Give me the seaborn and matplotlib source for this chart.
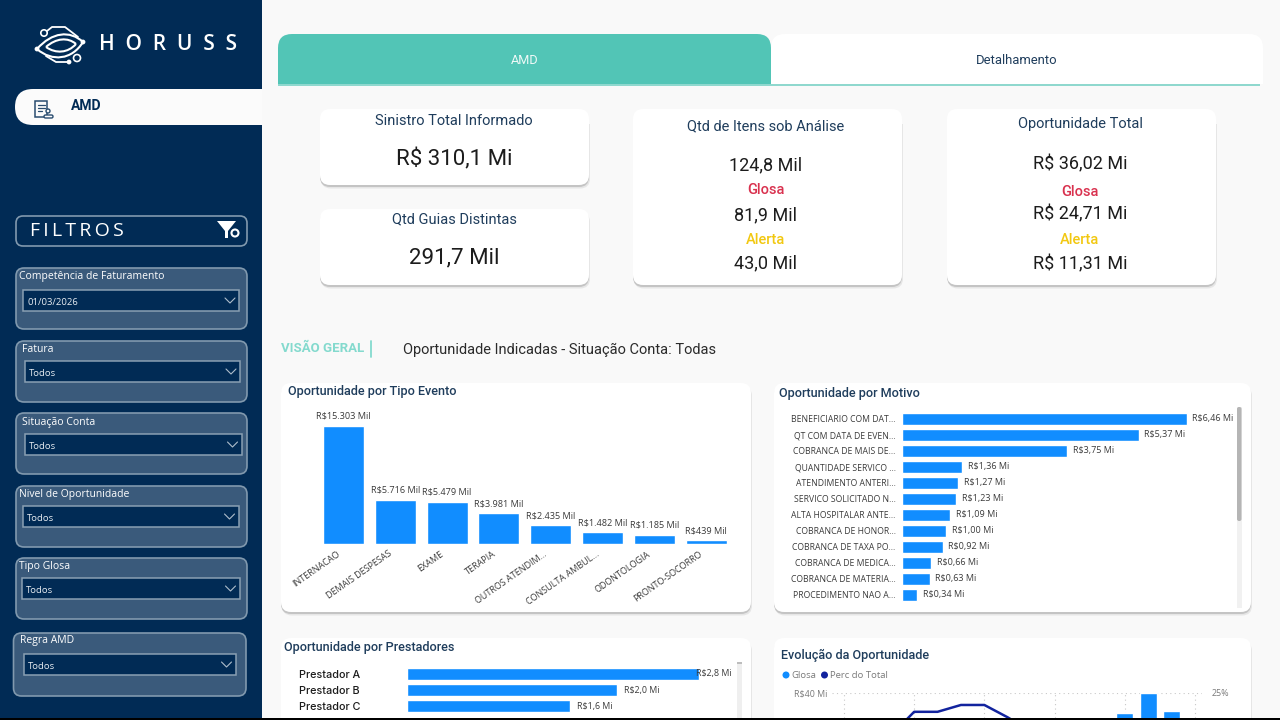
import numpy as np
import matplotlib.pyplot as plt
from matplotlib.patches import FancyBboxPatch, Rectangle, Polygon, Circle, PathPatch
from matplotlib.path import Path
from matplotlib.transforms import ScaledTranslation
import seaborn as sns

sns.set_theme(style="white")
plt.rcParams['font.family'] = ['Roboto', 'DejaVu Sans']

W, H = 1280, 720

# data
evento_cats = ['INTERNACAO', 'DEMAIS DESPESAS', 'EXAME', 'TERAPIA', 'OUTROS ATENDIM...',
               'CONSULTA AMBUL...', 'ODONTOLOGIA', 'PRONTO-SOCORRO']
evento_vals = [15303, 5716, 5479, 3981, 2435, 1482, 1185, 439]

motivo_cats = ['BENEFICIARIO COM DAT...', 'QT COM DATA DE EVEN...', 'COBRANCA DE MAIS DE...',
               'QUANTIDADE SERVICO ...', 'ATENDIMENTO ANTERI...', 'SERVICO SOLICITADO N...',
               'ALTA HOSPITALAR ANTE...', 'COBRANCA DE HONOR...', 'COBRANCA DE TAXA PO...',
               'COBRANCA DE MEDICA...', 'COBRANCA DE MATERIA...', 'PROCEDIMENTO NAO A...']
motivo_vals = [6.46, 5.37, 3.75, 1.36, 1.27, 1.23, 1.09, 1.00, 0.92, 0.66, 0.63, 0.34]

prestador_cats = ['Prestador A', 'Prestador B', 'Prestador C']
prestador_vals = [2.8, 2.02, 1.57]

evol_bar_idx = [12, 13, 14]
evol_bar_vals = [32.5, 40.0, 33.3]
evol_line_idx = [2, 3, 4, 5, 6, 7, 8]
evol_line_vals = [15.0, 20.6, 20.6, 22.2, 22.2, 19.3, 16.0]

filtro_labels = ['Competência de Faturamento', 'Fatura', 'Situação Conta',
                 'Nivel de Oportunidade', 'Tipo Glosa', 'Regra AMD']
filtro_values = ['01/03/2026', 'Todos', 'Todos', 'Todos', 'Todos', 'Todos']

NAVY = '#012b55'
TITLE = '#1f3d5c'
BLUE = '#118dff'
DARKBLUE = '#12239e'
TEAL = '#52c5b6'
RED = '#d9324f'
YELLOW = '#f2c811'
LABEL = '#3a3a3a'
GRAY = '#7a7a7a'
OPEN = ['Open Sans', 'DejaVu Sans']


def ax_px(x0, y0, x1, y1, **kw):
    return fig.add_axes([x0 / W, 1 - y1 / H, (x1 - x0) / W, (y1 - y0) / H], **kw)


def rbox(x0, y0, x1, y1, r=8, fc='white', ec='none', lw=1, z=1):
    bg.add_patch(FancyBboxPatch((x0, y0), x1 - x0, y1 - y0,
                                boxstyle=f'round,pad=0,rounding_size={r}',
                                fc=fc, ec=ec, lw=lw, zorder=z))


def card(x0, y0, x1, y1, r=10):
    # soft shadow under the card
    rbox(x0 + 1, y0 + 3, x1 + 1, y1 + 3.5, r, fc='#e6e6e6', z=1)
    rbox(x0, y0 + 2, x1, y1 + 2, r, fc='#c4c4c4', z=1.1)
    rbox(x0, y0, x1, y1, r, fc='white', z=1.2)


def txt(x, y, s, size=9, color='black', ha='left', weight='normal', family=None, z=5):
    bg.text(x, y + 1, s, fontsize=size, color=color, ha=ha, va='center', weight=weight,
            family=family if family else plt.rcParams['font.family'], zorder=z)


fig = plt.figure(figsize=(12.8, 7.2), dpi=100, facecolor='#f9f9f9')

bg = fig.add_axes([0, 0, 1, 1], zorder=0)
bg.set_xlim(0, W)
bg.set_ylim(H, 0)
bg.axis('off')

# sidebar
bg.add_patch(Rectangle((0, 0), 262, H, fc=NAVY, ec='none', zorder=0.5))

# logo
logo = dict(fc='none', ec='white', lw=1.5, zorder=3)
eye = [((37, 49), (52, 32), (70, 30), (83, 42)), ((37, 49), (52, 62), (72, 60), (83, 42)),
       ((46, 47), (56, 38), (68, 37), (76, 44)), ((46, 47), (56, 54), (68, 53), (76, 44))]
for a, b, c, d in eye:
    bg.add_patch(PathPatch(Path([a, b, c, d], [Path.MOVETO, Path.CURVE4, Path.CURVE4, Path.CURVE4]), **logo))
bg.plot([47, 52, 65, 78], [31, 27, 27, 37], color='white', lw=1.3, zorder=3)
bg.plot([46, 56, 69], [56, 62, 62], color='white', lw=1.3, zorder=3)
bg.add_patch(Circle((44, 33), 3.2, fc=NAVY, ec='white', lw=1.2, zorder=4))
bg.add_patch(Circle((77, 58), 3.5, fc=NAVY, ec='white', lw=1.2, zorder=4))
for cx, cy in [(37, 49), (83, 42), (69, 62)]:
    bg.add_patch(Circle((cx, cy), 2.4, fc='white', ec='none', zorder=4))
txt(99, 44, 'H  O  R  U  S  S', 15, 'white', weight='semibold', family=OPEN)

# AMD menu pill
rbox(15, 89, 290, 125, 18, fc='#fbfbfb', z=1)
bg.add_patch(Rectangle((262, 85), 30, 45, fc='#f9f9f9', ec='none', zorder=1.1))
txt(71, 104.5, 'AMD', 10, NAVY, weight='bold')
bg.add_patch(Rectangle((35, 101), 12, 16, fc='none', ec='#2a4d70', lw=1.1, zorder=3))
bg.plot([37.5, 44.5, np.nan, 37.5, 44.5, np.nan, 37.5, 42], [105, 105, np.nan, 108, 108, np.nan, 111, 111],
        color='#2a4d70', lw=0.9, zorder=3)
bg.add_patch(Circle((48, 111), 2, fc='#fbfbfb', ec='#2a4d70', lw=1, zorder=4))
bg.add_patch(FancyBboxPatch((44, 115), 9, 3, boxstyle='round,pad=0,rounding_size=1.5',
                            fc='#fbfbfb', ec='#2a4d70', lw=1, zorder=4))

# filtros
rbox(16, 216, 247, 246, 7, fc=NAVY, ec='#8199ae', lw=1.2, z=1)
txt(30, 230, 'F\u2009I\u2009L\u2009T\u2009R\u2009O\u2009S', 14, 'white', family=OPEN)
bg.add_patch(Polygon([(217, 221), (236, 221), (228, 231), (228, 238), (225, 238), (225, 231)],
                     fc='white', ec='none', zorder=3))
bg.add_patch(Circle((235, 233), 3.5, fc=NAVY, ec='white', lw=1.5, zorder=4))

panel_box = [(16, 268, 247, 329), (16, 341, 247, 402), (16, 413, 247, 474),
             (16, 486, 247, 547), (16, 558, 247, 619), (13.5, 633, 246, 696)]
drop_box = [(23, 290, 239, 311), (25, 361, 240, 382), (25, 434, 241.5, 455),
            (23, 506, 238.5, 527), (22, 578, 239.5, 599), (23.5, 654, 235.5, 675)]
label_pos = [(19, 276), (22, 348), (22, 422), (19, 493), (19, 566), (20.5, 640)]
for i in range(len(filtro_labels)):
    x0, y0, x1, y1 = panel_box[i]
    rbox(x0, y0, x1, y1, 8, fc='#3a5a7b', ec='#8199ae', lw=1.2, z=1)
    dx0, dy0, dx1, dy1 = drop_box[i]
    bg.add_patch(Rectangle((dx0, dy0), dx1 - dx0, dy1 - dy0, fc=NAVY, ec='#8aa0b3', lw=1.1, zorder=2))
    txt(label_pos[i][0], label_pos[i][1], filtro_labels[i], 7.5, 'white', family=OPEN)
    txt(dx0 + 4, (dy0 + dy1) / 2 + 1, filtro_values[i], 6.8, '#e8edf2', family=OPEN)
    mid = (dy0 + dy1) / 2
    bg.plot([dx1 - 14, dx1 - 9, dx1 - 4], [mid - 2.5, mid + 2.5, mid - 2.5], color='#aebdcb', lw=0.8, zorder=3)

# tabs
rbox(771, 34, 1263, 110, 14, fc='white', z=1)
rbox(278, 34, 771, 110, 14, fc=TEAL, z=1.1)
bg.add_patch(Rectangle((270, 83.5), 1000, 40, fc='#f9f9f9', ec='none', zorder=1.2))
bg.add_patch(Rectangle((278, 83.5), 982, 2, fc='#8fd8ce', ec='none', zorder=1.3))
bg.add_patch(Rectangle((278, 80), 493, 4, fc=TEAL, ec='none', zorder=1.4))
bg.add_patch(Rectangle((771, 80), 489, 3.5, fc='white', ec='none', zorder=1.4))
txt(524.5, 59, 'AMD', 9.2, '#eef9f7', ha='center')
txt(1017, 59, 'Detalhamento', 9.4, TITLE, ha='center')

# KPI cards
card(320, 109, 589, 185)
card(320, 209, 589, 285)
card(633, 109, 902, 285)
card(947, 109, 1216, 285)
txt(454, 120, 'Sinistro Total Informado', 10.5, TITLE, ha='center')
txt(454, 158.5, 'R$ 310,1 Mi', 16, '#1c1c1c', ha='center')
txt(454, 218, 'Qtd Guias Distintas', 10.5, TITLE, ha='center')
txt(454, 256.5, '291,7 Mil', 16, '#1c1c1c', ha='center')

txt(766, 125, 'Qtd de Itens sob Análise', 10.5, TITLE, ha='center')
txt(766, 164.5, '124,8 Mil', 13, '#1c1c1c', ha='center')
txt(766, 189.5, 'Glosa', 10.5, RED, ha='center', weight='medium')
txt(766, 214.5, '81,9 Mil', 13, '#1c1c1c', ha='center')
txt(766, 238.5, 'Alerta', 10.5, YELLOW, ha='center', weight='medium')
txt(766, 262, '43,0 Mil', 13, '#1c1c1c', ha='center')

txt(1080, 123, 'Oportunidade Total', 10.5, TITLE, ha='center')
txt(1080, 163.5, 'R$ 36,02 Mi', 13, '#1c1c1c', ha='center')
txt(1080, 190.5, 'Glosa', 10.5, RED, ha='center', weight='medium')
txt(1080, 213.5, 'R$ 24,71 Mi', 13, '#1c1c1c', ha='center')
txt(1080, 239.5, 'Alerta', 10.5, YELLOW, ha='center', weight='medium')
txt(1080, 263.5, 'R$ 11,31 Mi', 13, '#1c1c1c', ha='center')

# section header
txt(281, 348, 'VISÃO GERAL', 9.5, '#84dace', weight='bold')
bg.plot([371, 371], [341, 357], color='#84dace', lw=1.3, zorder=3)
txt(403, 348.5, 'Oportunidade Indicadas - Situação Conta: Todas', 10.55, '#2b2b2b')

# chart cards
card(281, 383, 751, 612)
card(774, 383, 1251, 612)
card(281, 638, 751, 760)
card(774, 638, 1251, 760)
txt(287.5, 390, 'Oportunidade por Tipo Evento', 9.1, TITLE, weight='medium')
txt(779, 392, 'Oportunidade por Motivo', 9.1, TITLE, weight='medium')
txt(284, 646.5, 'Oportunidade por Prestadores', 9.1, TITLE, weight='medium')
txt(781, 654, 'Evolução da Oportunidade', 9.1, TITLE, weight='medium')

# scrollbars
bg.add_patch(Rectangle((1237, 407), 4.5, 201, fc='#f1f1f1', ec='none', zorder=3))
bg.add_patch(FancyBboxPatch((1237, 407), 4.5, 114, boxstyle='round,pad=0,rounding_size=2',
                            fc='#b5b5b5', ec='none', zorder=3.1))
bg.add_patch(Rectangle((737, 662), 5, 60, fc='#efefef', ec='none', zorder=3))
bg.add_patch(Rectangle((737, 662), 5, 2, fc='#bdbdbd', ec='none', zorder=3.1))

# chart 1
ax1 = ax_px(317.6, 399.3, 732, 543.8, facecolor='none')
sns.barplot(x=evento_cats, y=evento_vals, color=BLUE, saturation=1, width=0.79, ax=ax1)
ax1.set_ylim(0, 18740)
ax1.set_xlim(-0.5, 7.5)
ax1.bar_label(ax1.containers[0], labels=[f'R${v:,} Mil'.replace(',', '.') for v in evento_vals],
              fontsize=6.6, color=LABEL, padding=3.5, family='Open Sans')
ax1.set_yticks([])
ax1.tick_params(axis='x', length=0, pad=3)
ax1.set_xticklabels(evento_cats, rotation=35, ha='right', rotation_mode='anchor',
                    fontsize=6.5, color=LABEL, family='Open Sans')
shift = ScaledTranslation(-5 / 72, -1 / 72, fig.dpi_scale_trans)
for lab in ax1.get_xticklabels():
    lab.set_transform(lab.get_transform() + shift)
sns.despine(ax=ax1, left=True, bottom=True)

# chart 2
ax2 = ax_px(902, 411, 1235, 603, facecolor='none')
sns.barplot(x=motivo_vals, y=motivo_cats, color=BLUE, saturation=1, width=0.75, orient='h', ax=ax2)
ax2.set_xlim(0, 333 / 44.1)
ax2.set_ylim(11.5, -0.5)
ax2.bar_label(ax2.containers[0], labels=[f'R${v:.2f} Mi'.replace('.', ',') for v in motivo_vals],
              fontsize=6.5, color=LABEL, padding=4, family='Open Sans')
ax2.set_xticks([])
ax2.tick_params(axis='y', length=0, pad=4.5)
ax2.set_yticklabels(motivo_cats, fontsize=6.2, color=LABEL, family='Open Sans')
sns.despine(ax=ax2, left=True, bottom=True)

# chart 3
ax3 = ax_px(406.5, 665.6, 737, 717, facecolor='none')
sns.barplot(x=prestador_vals, y=prestador_cats, color=BLUE, saturation=1, width=0.74, orient='h', ax=ax3)
ax3.set_xlim(0, 330.5 / 104.4)
ax3.set_ylim(2.65, -0.5)
for i, bar in enumerate(ax3.containers[0]):
    ax3.annotate(f'R${prestador_vals[i]:.1f} Mi'.replace('.', ','),
                 (bar.get_width(), bar.get_y() + bar.get_height() / 2),
                 xytext=(-2 if i == 0 else 5, 0), textcoords='offset points', va='center',
                 fontsize=6.4, color=LABEL, family='Open Sans', zorder=5)
ax3.set_xticks([])
ax3.tick_params(axis='y', length=0, pad=77.2)
ax3.set_yticklabels(prestador_cats, fontsize=7.8, color='#1c1c1c', ha='left', family='Inter', weight='medium')
sns.despine(ax=ax3, left=True, bottom=True)

# chart 4, cut by the bottom of the screenshot
ax4 = ax_px(832, 693, 1202, 717.5, facecolor='none')
sns.barplot(x=evol_bar_idx, y=evol_bar_vals, color=BLUE, saturation=1, width=0.73, native_scale=True, ax=ax4)
ax4.set_xlim(-0.51, 15.3)
ax4.set_ylim(30.84, 40)
ax4.set_xticks([0, 3, 6, 9, 12, 15])
ax4.set_xticklabels([])
ax4.set_yticks([40])
ax4.set_yticklabels(['R$40 Mi'], fontsize=6.4, color=GRAY, family='Open Sans')
ax4.tick_params(length=0, pad=3)
ax4.grid(True, linestyle=(0, (1, 3)), color='#c8c8c8', lw=0.8)
ax4.set_axisbelow(True)
ax4.set_xlabel('')
ax4.set_ylabel('')
sns.despine(ax=ax4, left=True, bottom=True)

ax4b = ax4.twinx()
sns.lineplot(x=evol_line_idx, y=evol_line_vals, color=DARKBLUE, lw=1.8, ax=ax4b)
ax4b.set_xlim(-0.51, 15.3)
ax4b.set_ylim(19.27, 25)
ax4b.set_yticks([25])
ax4b.set_yticklabels(['25%'], fontsize=6.4, color=GRAY, family='Open Sans')
ax4b.tick_params(length=0, pad=7)
ax4b.set_ylabel('')
sns.despine(ax=ax4b, left=True, right=True, bottom=True)

# legend of chart 4
bg.add_patch(Circle((786, 675), 3.5, fc=BLUE, ec='none', zorder=4))
txt(791.5, 675, 'Glosa', 6.8, GRAY, family=OPEN)
bg.add_patch(Circle((824.5, 675), 3.5, fc=DARKBLUE, ec='none', zorder=4))
txt(830.5, 675, 'Perc do Total', 6.8, GRAY, family=OPEN)

# black strip at the bottom of the screenshot
top = fig.add_axes([0, 0, 1, 1], zorder=10, facecolor='none')
top.set_xlim(0, W)
top.set_ylim(H, 0)
top.axis('off')
top.add_patch(Rectangle((0, 717.5), W, 3, fc='black', ec='none'))

plt.savefig('out.png', dpi=100, facecolor=fig.get_facecolor())
